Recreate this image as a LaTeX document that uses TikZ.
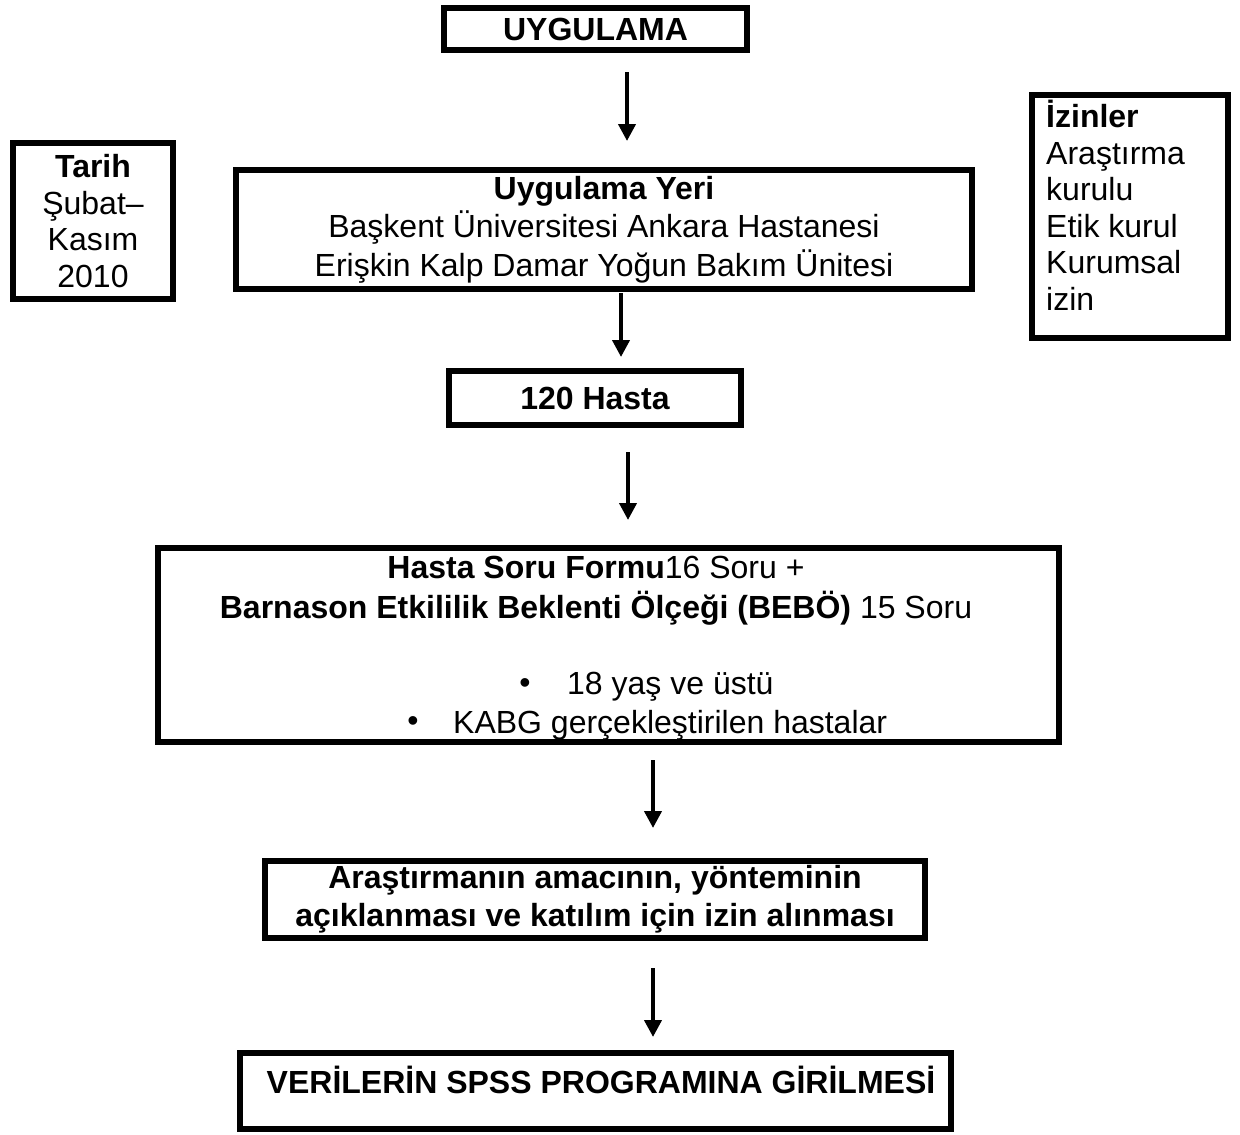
\documentclass[tikz,border=0pt]{standalone}
\usepackage{fontspec}
\setmainfont{Liberation Sans}
\usetikzlibrary{arrows.meta}
\begin{document}
\begin{tikzpicture}[x=1pt,y=-1pt,
  every node/.style={font=\fontsize{32}{37.5}\selectfont},
  tight/.style={font=\fontsize{32}{36.5}\selectfont},
  box/.style={draw, line width=6pt, inner sep=0pt, align=center},
  txt/.style={inner sep=0pt, align=center},
  arr/.style={line width=4pt, -{Triangle[width=17pt,length=17pt]}},
]
\useasboundingbox (0,0) rectangle (1240,1135);
\fill[white] (0,0) rectangle (1240,1135);

% boxes
\node[box, minimum width=303, minimum height=42] (b1) at (595.5,29) {\bfseries UYGULAMA};
\node[box, tight, minimum width=160, minimum height=156] (tarih) at (93,221)
  {\textbf{Tarih}\\Şubat–\\Kasım\\2010};
\node[box, font=\fontsize{32}{38.5}\selectfont, minimum width=736, minimum height=119] (b2) at (604,229.5)
  {\textbf{Uygulama Yeri}\\Başkent Üniversitesi Ankara Hastanesi\\Erişkin Kalp Damar Yoğun Bakım Ünitesi};
\node[box, minimum width=196, minimum height=243] (izin) at (1130,216.5) {};
\node[txt, tight, align=left, anchor=north west] (izintxt) at (1046,100)
  {\textbf{İzinler}\\Araştırma\\kurulu\\Etik kurul\\Kurumsal\\izin};
\node[box, minimum width=292, minimum height=54] (b3) at (595,398) {\bfseries 120 Hasta};
\node[box, minimum width=901, minimum height=194] (b4) at (608.5,645) {};
\node[txt, font=\fontsize{32}{40}\selectfont] (b4head) at (596,590.5)
  {\textbf{Hasta Soru Formu}16 Soru +\\\textbf{Barnason Etkililik Beklenti Ölçeği (BEBÖ)} 15 Soru};
\node[txt] (bul1) at (525,686) {•};
\node[txt, anchor=west] (item1) at (567,687) {18 yaş ve üstü};
\node[txt] (bul2) at (413,724) {•};
\node[txt, anchor=west] (item2) at (453,725) {KABG gerçekleştirilen hastalar};
\node[box, font=\fontsize{32}{38}\selectfont, minimum width=660, minimum height=77] (b5) at (595,899.5)
  {\textbf{Araştırmanın amacının, yönteminin}\\\textbf{açıklanması ve katılım için izin alınması}};
\node[box, minimum width=711, minimum height=76] (b6) at (595.5,1091) {};
\node[txt] (b6txt) at (601,1080) {\bfseries VERİLERİN SPSS PROGRAMINA GİRİLMESİ};

% arrows
\draw[arr, shorten <=19pt, shorten >=26pt] ([xshift=31.5pt]b1.south) -- ([xshift=23pt]b2.north);
\draw[arr, shorten <=1pt, shorten >=11pt] ([xshift=17pt]b2.south) -- ([xshift=26pt]b3.north);
\draw[arr, shorten <=24pt, shorten >=25pt] ([xshift=33pt]b3.south) -- ([xshift=19.5pt]b4.north);
\draw[arr, shorten <=15pt, shorten >=30pt] ([xshift=44.5pt]b4.south) -- ([xshift=58pt]b5.north);
\draw[arr, shorten <=27pt, shorten >=13pt] ([xshift=58pt]b5.south) -- ([xshift=57.5pt]b6.north);
\end{tikzpicture}
\end{document}
